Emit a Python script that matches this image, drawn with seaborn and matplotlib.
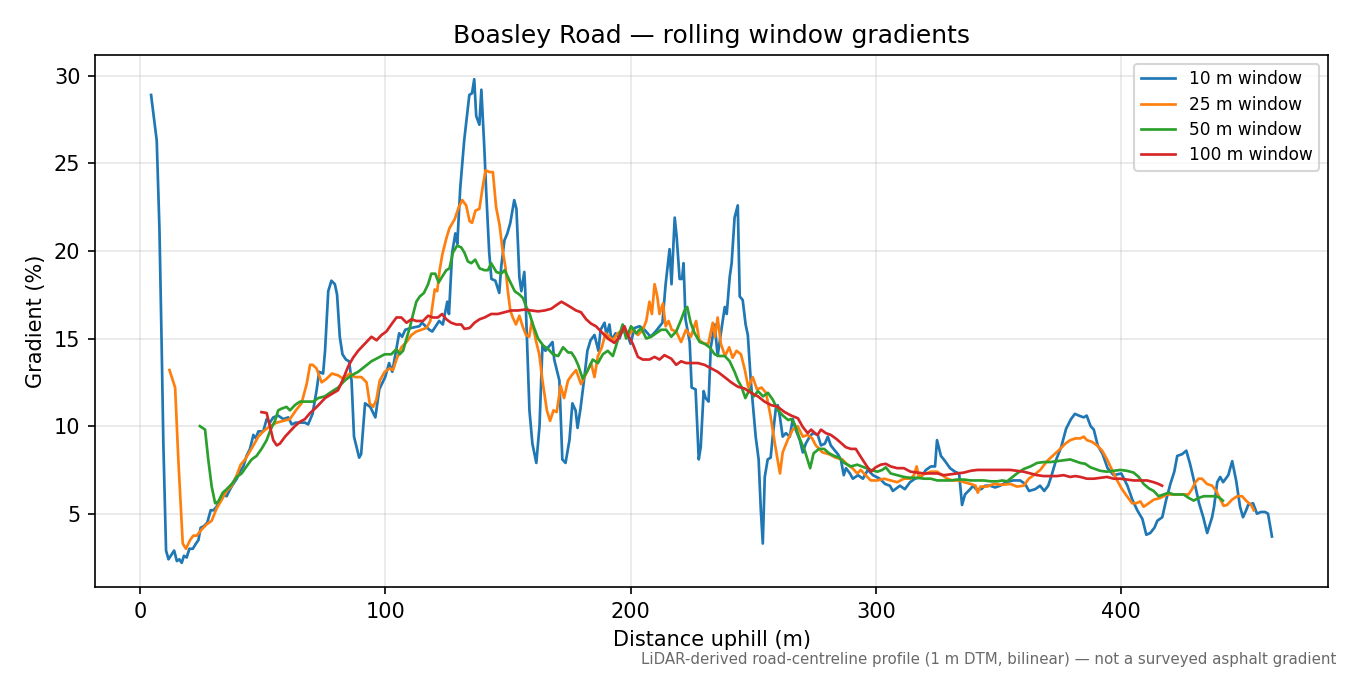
import numpy as np
import pandas as pd
import matplotlib
matplotlib.use("Agg")
import matplotlib.pyplot as plt
import seaborn as sns

# distance (m) / gradient (%)
dist_10 = [4.6, 6.9, 8.0, 8.9, 9.6, 10.7, 11.7, 12.6, 14.0, 15.1, 16.1, 17.1, 18.0, 19.1, 20.2,
           21.6, 22.9, 23.9, 24.8, 26.2, 27.5, 28.9, 30.0, 31.3, 32.7, 34.0, 35.4, 36.8, 38.1,
           39.5, 40.8, 42.2, 43.5, 44.9, 46.3, 47.3, 48.3, 50.3, 51.7, 53.0, 54.4, 56.4, 58.5,
           60.5, 61.9, 63.6, 65.3, 67.3, 68.6, 70.4, 72.0, 73.1, 74.7, 75.5, 76.8, 78.1, 79.5,
           80.4, 81.5, 82.6, 84.0, 85.3, 86.3, 87.3, 89.4, 90.2, 91.8, 93.9, 96.0, 97.6, 100.0,
           101.6, 102.9, 105.7, 106.9, 108.2, 110.5, 113.9, 115.0, 118.0, 119.2, 122.0, 123.5,
           125.3, 126.0, 127.3, 128.6, 129.4, 130.6, 132.2, 134.3, 135.4, 136.3, 137.1, 138.4,
           139.2, 140.4, 141.2, 142.4, 143.3, 144.9, 146.5, 147.3, 148.6, 149.8, 151.0, 152.6,
           153.5, 154.7, 155.5, 156.7, 157.1, 158.8, 160.0, 161.6, 162.9, 164.1, 165.3, 168.2,
           168.9, 171.0, 172.2, 173.5, 175.1, 176.3, 177.6, 178.4, 179.6, 181.2, 182.4, 183.7,
           185.3, 186.9, 187.8, 189.4, 190.2, 191.4, 192.2, 193.9, 195.5, 196.7, 198.8, 200.0,
           201.6, 203.7, 205.7, 208.2, 210.2, 213.0, 214.3, 215.9, 216.7, 218.0, 218.8, 220.0,
           221.0, 221.6, 222.4, 224.1, 224.9, 226.5, 227.8, 228.6, 229.8, 230.6, 231.8, 232.7,
           234.3, 235.5, 236.7, 238.4, 239.2, 240.4, 241.2, 242.4, 243.7, 244.5, 245.7, 246.9,
           247.8, 249.0, 249.8, 251.0, 252.2, 253.1, 253.9, 254.7, 255.9, 257.1, 258.0, 259.2,
           260.0, 260.8, 262.0, 263.3, 264.9, 266.1, 267.3, 269.0, 270.2, 271.4, 273.0, 274.3,
           276.3, 277.6, 279.2, 280.4, 281.6, 283.3, 284.5, 285.7, 286.9, 287.8, 289.4, 290.6,
           292.7, 294.7, 296.7, 298.8, 301.6, 303.7, 305.7, 306.9, 309.8, 311.8, 313.9, 315.9,
           318.4, 320.4, 322.4, 324.1, 324.9, 326.5, 328.2, 330.2, 332.2, 333.9, 335.1, 336.3,
           338.4, 339.6, 340.8, 342.9, 344.5, 346.5, 348.6, 350.6, 353.1, 355.9, 358.8, 360.8,
           362.4, 364.9, 366.9, 368.6, 370.2, 371.4, 373.5, 375.5, 377.5, 379.5, 381.1, 382.7,
           384.7, 385.9, 387.5, 388.8, 390.4, 392.4, 394.4, 396.9, 400.0, 402.5, 404.5, 406.5,
           408.6, 410.2, 411.8, 413.5, 414.7, 416.7, 418.3, 420.0, 421.6, 422.8, 424.8, 426.5,
           428.1, 430.1, 431.7, 433.4, 435.0, 437.0, 437.8, 439.1, 440.3, 441.5, 443.6, 445.2,
           446.8, 448.4, 449.6, 450.9, 451.7, 453.7, 455.3, 456.9, 458.6, 459.8, 461.4]
grad_10 = [28.9, 26.3, 21.3, 14.7, 9.0, 2.9, 2.4, 2.6, 2.9, 2.3, 2.4, 2.2, 2.6, 2.5, 3.0,
           3.0, 3.3, 3.5, 4.2, 4.3, 4.5, 5.2, 5.2, 5.4, 5.8, 6.1, 6.0, 6.4, 6.7,
           7.0, 7.4, 7.7, 8.3, 8.7, 9.5, 9.3, 9.7, 9.7, 10.4, 10.2, 10.5, 10.6, 10.4,
           10.5, 10.1, 10.2, 10.2, 10.2, 10.1, 10.7, 12.0, 13.1, 13.0, 14.3, 17.7, 18.3, 18.1,
           17.5, 15.1, 14.1, 13.8, 13.7, 12.6, 9.4, 8.2, 8.4, 11.3, 11.1, 10.5, 12.1, 12.8,
           13.6, 13.1, 15.3, 15.1, 15.5, 15.6, 15.7, 15.9, 15.5, 15.4, 16.0, 15.8,
           17.1, 16.4, 19.9, 21.0, 20.4, 23.6, 26.3, 28.9, 29.0, 29.8, 27.7, 27.2,
           29.2, 25.9, 23.3, 19.9, 18.4, 18.3, 17.6, 19.1, 20.6, 21.0, 21.6, 22.9,
           22.4, 18.5, 17.7, 18.8, 17.7, 10.9, 9.0, 7.9, 10.0, 14.6, 14.3, 14.8,
           13.8, 12.6, 8.1, 7.9, 9.2, 11.3, 10.9, 9.9, 11.0, 12.8, 14.3, 14.9,
           15.2, 14.3, 15.5, 15.9, 15.2, 15.8, 14.9, 15.3, 15.0, 15.5, 15.2, 14.7,
           15.6, 15.7, 15.5, 15.1, 15.4, 15.9, 18.1, 20.1, 18.1, 21.9, 20.8, 18.4,
           18.4, 19.3, 16.1, 14.8, 12.2, 12.1, 8.1, 8.8, 12.0, 11.6, 11.4, 14.5,
           15.8, 14.0, 15.2, 16.8, 16.4, 18.5, 19.3, 21.9, 22.6, 17.4, 17.2, 15.8,
           15.2, 12.6, 11.3, 9.4, 8.1, 5.2, 3.3, 7.1, 8.1, 8.2, 9.5, 11.0,
           11.2, 10.6, 9.4, 9.6, 9.4, 10.4, 9.8, 9.2, 8.5, 9.0, 9.4, 9.6,
           9.5, 8.9, 9.0, 9.4, 8.9, 8.6, 8.4, 8.1, 7.2, 7.6, 7.3, 7.0,
           7.2, 7.0, 7.5, 7.2, 7.0, 6.7, 6.6, 6.3, 6.6, 6.4, 6.8, 7.0,
           7.1, 7.5, 7.7, 7.7, 9.2, 8.3, 8.0, 7.6, 7.4, 7.3, 5.5, 6.1,
           6.4, 6.6, 6.4, 6.4, 6.6, 6.6, 6.5, 6.6, 6.8, 6.9, 6.9, 6.7,
           6.3, 6.4, 6.6, 6.3, 6.6, 7.1, 8.1, 8.8, 9.85, 10.4, 10.7, 10.6,
           10.5, 10.6, 10.0, 9.8, 8.9, 8.4, 7.6, 7.2, 7.3, 6.6, 5.8, 5.2,
           4.7, 3.8, 3.9, 4.2, 4.6, 4.8, 5.8, 6.7, 7.4, 8.3, 8.4, 8.6,
           7.8, 6.6, 5.6, 4.8, 3.9, 4.8, 5.4, 6.8, 7.1, 6.8, 7.2, 8.0,
           6.9, 5.4, 4.8, 5.2, 5.5, 5.6, 5.0, 5.1, 5.1, 5.0, 3.7]

dist_25 = [12.1, 14.4, 15.7, 17.5, 18.8, 20.5, 21.8, 23.2, 25.2, 27.3, 29.3, 31.3, 33.4, 35.4,
           37.5, 39.5, 41.1, 42.9, 44.2, 46.3, 48.3, 50.3, 53.0, 55.8, 58.5, 61.2, 63.6, 65.9,
           68.0, 69.4, 70.4, 72.0, 74.1, 76.1, 78.3, 80.8, 82.9, 85.6, 87.6, 90.3, 92.4, 93.7,
           95.1, 96.4, 97.8, 99.8, 101.9, 103.2, 104.6, 106.6, 108.7, 110.7, 112.7, 114.8,
           116.8, 118.4, 119.2, 120.2, 121.2, 122.2, 123.3, 124.9, 126.2, 128.3, 130.0, 131.4,
           133.0, 134.4, 135.4, 136.8, 138.4, 139.8, 140.9, 142.5, 143.9, 145.2, 146.6, 147.9,
           149.0, 150.0, 151.0, 152.0, 153.3, 154.7, 156.0, 157.4, 158.7, 159.8, 161.4, 162.8,
           164.1, 165.9, 167.2, 168.6, 169.9, 171.5, 172.9, 174.5, 176.0, 177.8, 179.8, 181.9,
           183.9, 185.3, 186.7, 188.3, 189.8, 191.4, 192.8, 194.8, 196.8, 198.9, 200.9, 203.0,
           205.0, 206.4, 207.7, 208.7, 209.8, 210.9, 211.8, 213.2, 214.3, 215.5, 216.8, 218.6,
           220.6, 222.6, 224.6, 226.7, 228.0, 230.1, 231.7, 233.5, 234.4, 235.5, 236.8, 238.5,
           240.2, 241.6, 243.2, 245.0, 246.6, 248.0, 249.8, 251.5, 253.4, 255.2, 256.9, 258.6,
           259.9, 260.9, 262.0, 264.0, 266.1, 268.1, 270.2, 272.2, 274.0, 275.5, 278.2, 280.9,
           283.6, 286.3, 288.4, 290.4, 292.4, 293.8, 295.8, 297.9, 300.6, 303.3, 306.0, 308.7,
           311.4, 314.1, 315.5, 316.6, 317.5, 319.6, 322.3, 325.0, 327.0, 329.1, 331.1, 333.8,
           335.9, 338.6, 340.6, 341.5, 342.6, 345.3, 348.0, 351.4, 354.8, 357.5, 360.2, 362.3,
           364.3, 367.0, 369.7, 372.4, 375.1, 377.2, 379.2, 381.3, 383.3, 384.7, 386.0, 388.1,
           390.1, 392.2, 394.2, 396.2, 398.3, 400.3, 402.3, 404.4, 406.1, 407.8, 409.1, 411.2,
           413.2, 415.9, 418.6, 421.3, 424.0, 427.4, 428.8, 430.2, 431.5, 432.9, 434.9, 437.0,
           438.7, 440.4, 441.7, 443.1, 445.1, 447.2, 449.2, 451.2, 452.9, 454.0]
grad_25 = [13.2, 12.2, 8.1, 3.3, 3.0, 3.5, 3.75, 3.75, 4.1, 4.4, 4.6, 5.3, 5.8, 6.3,
           6.6, 7.2, 7.8, 8.1, 8.4, 8.9, 9.4, 9.7, 10.0, 10.2, 10.3, 10.4, 10.9, 11.3,
           12.4, 13.5, 13.5, 13.3, 12.5, 12.7, 13.0, 12.9, 12.7, 13.0, 12.8, 12.8, 12.5, 11.3,
           11.1, 11.5, 12.6, 13.1, 13.3, 13.2, 13.8, 14.5, 14.8, 15.2, 15.4, 15.5,
           15.6, 16.0, 16.8, 17.8, 17.7, 18.9, 19.8, 20.7, 21.3, 21.8, 22.5, 22.9,
           22.6, 21.7, 21.6, 22.3, 22.4, 23.7, 24.6, 24.5, 24.5, 22.5, 21.5, 20.0,
           19.1, 17.7, 16.6, 16.2, 15.8, 16.3, 15.7, 15.2, 15.1, 16.0, 14.9, 14.1,
           12.6, 10.9, 10.3, 10.9, 10.8, 12.3, 11.6, 12.6, 12.9, 13.2, 12.4, 13.0,
           13.6, 12.8, 14.0, 14.5, 15.3, 15.1, 14.9, 15.3, 15.5, 15.1, 15.5, 15.2,
           15.5, 16.0, 17.1, 16.4, 18.1, 17.4, 16.4, 17.0, 15.7, 16.0, 15.5, 15.4,
           14.8, 15.5, 15.1, 16.0, 14.9, 14.7, 14.7, 15.9, 15.1, 16.2, 14.7, 14.0,
           14.5, 13.9, 14.3, 14.1, 13.2, 12.2, 12.8, 12.1, 12.2, 11.9, 10.7, 9.2,
           8.1, 7.3, 8.5, 9.2, 9.8, 10.0, 9.4, 9.5, 9.3, 8.9, 8.5, 8.4,
           8.2, 8.1, 7.8, 7.6, 7.3, 7.5, 7.2, 6.9, 6.9, 7.0, 6.9, 6.8,
           7.0, 7.0, 7.2, 7.7, 7.1, 7.25, 7.4, 7.4, 7.2, 7.0, 6.9, 6.9,
           6.8, 6.7, 6.6, 6.2, 6.55, 6.55, 6.7, 6.65, 6.7, 6.55, 6.6, 7.0,
           7.2, 7.5, 8.0, 8.35, 8.7, 9.0, 9.2, 9.3, 9.3, 9.4, 9.2, 9.1,
           8.9, 8.6, 8.1, 7.5, 6.9, 6.4, 6.0, 5.6, 5.6, 5.7, 5.4, 5.6,
           5.8, 5.9, 6.1, 6.1, 6.1, 6.1, 6.4, 6.8, 7.0, 7.0, 6.7, 6.6,
           6.3, 5.8, 5.45, 5.5, 5.8, 6.0, 6.0, 5.7, 5.5, 5.2]

dist_50 = [24.5, 26.6, 27.9, 29.3, 30.7, 32.0, 33.8, 35.4, 37.5, 39.5, 41.5, 43.5, 45.6, 47.6,
           49.6, 51.7, 53.3, 55.1, 56.4, 57.8, 59.8, 61.2, 63.2, 65.3, 68.0, 70.7, 72.7, 75.4,
           78.0, 80.8, 83.5, 86.3, 89.0, 91.7, 94.4, 97.1, 99.8, 102.5, 104.6, 105.9, 107.3,
           108.7, 110.0, 111.4, 112.7, 114.1, 115.8, 117.5, 118.8, 120.4, 121.8, 123.1, 124.9,
           126.2, 127.6, 129.3, 131.0, 132.3, 133.7, 135.1, 136.7, 138.5, 140.5, 141.9, 143.2,
           145.3, 147.3, 148.7, 150.7, 152.8, 154.8, 156.2, 157.5, 158.9, 160.2, 162.3, 164.4,
           166.4, 168.4, 170.5, 172.5, 174.6, 175.9, 177.3, 178.6, 180.5, 182.6, 184.6, 186.7,
           188.7, 190.7, 192.8, 194.8, 196.8, 198.2, 200.2, 202.3, 204.3, 206.4, 208.4, 210.4,
           212.5, 214.5, 216.6, 218.6, 220.4, 222.0, 223.1, 224.5, 226.1, 228.2, 230.2, 232.2,
           234.3, 236.3, 238.4, 240.4, 242.4, 243.8, 245.2, 246.8, 248.5, 250.3, 251.9, 254.0,
           256.0, 258.0, 260.1, 262.1, 264.2, 265.5, 266.9, 268.9, 271.0, 273.2, 274.6, 276.8,
           278.9, 280.9, 283.0, 285.0, 287.1, 289.8, 292.4, 295.2, 297.9, 300.6, 302.6, 304.0,
           306.0, 308.7, 311.4, 314.1, 316.8, 319.6, 322.3, 325.0, 327.7, 330.4, 333.1, 335.9,
           338.6, 341.3, 344.0, 346.7, 349.5, 351.5, 353.5, 354.8, 357.5, 360.2, 363.0, 365.7,
           368.4, 371.1, 373.8, 376.5, 379.2, 381.3, 383.3, 385.3, 387.4, 389.4, 391.4, 394.2,
           396.9, 399.6, 402.3, 405.0, 407.1, 409.1, 411.2, 413.2, 415.2, 417.3, 419.3, 421.3,
           423.4, 425.4, 427.5, 429.5, 431.5, 433.6, 435.6, 437.7, 439.7, 441.4]
grad_50 = [10.0, 9.8, 8.1, 6.55, 5.6, 5.7, 6.2, 6.4, 6.7, 7.1, 7.3, 7.7, 8.1, 8.3,
           8.7, 9.2, 9.8, 10.3, 10.9, 11.0, 11.1, 10.9, 11.2, 11.4, 11.4, 11.4, 11.6, 11.7,
           11.95, 12.2, 12.6, 12.9, 13.1, 13.4, 13.7, 13.9, 14.1, 14.1, 14.4, 14.1, 14.3,
           15.0, 15.6, 16.4, 17.1, 17.4, 17.6, 18.1, 18.7, 18.7, 18.2, 18.5, 18.9,
           19.0, 19.9, 20.3, 20.2, 19.9, 19.4, 19.3, 19.5, 19.0, 18.9, 18.9, 19.3,
           18.8, 18.7, 18.9, 18.3, 17.7, 17.5, 17.3, 16.8, 16.4, 15.8, 15.0, 14.6,
           14.4, 14.1, 14.0, 14.5, 14.2, 14.2, 13.9, 13.5, 12.7, 13.2, 13.8, 13.6,
           14.1, 14.3, 14.0, 14.9, 15.8, 15.0, 15.7, 15.3, 15.6, 15.0, 15.1, 15.3,
           15.5, 15.5, 15.1, 15.4, 16.0, 16.6, 16.8, 15.9, 15.3, 14.8, 14.7, 14.5,
           14.1, 14.0, 14.0, 13.7, 13.1, 12.6, 12.25, 11.6, 12.1, 11.7, 12.0, 11.7,
           11.9, 11.5, 10.9, 10.6, 10.35, 10.4, 10.1, 9.3, 8.6, 7.6, 8.45, 8.7,
           8.7, 8.45, 8.3, 8.2, 7.9, 7.7, 7.8, 7.65, 7.5, 7.4, 7.5, 7.65,
           7.3, 7.2, 7.1, 7.05, 7.05, 7.0, 7.0, 6.9, 6.9, 6.9, 6.95, 6.95,
           6.9, 6.9, 6.9, 6.85, 6.85, 6.9, 6.85, 7.0, 7.3, 7.55, 7.7, 7.9,
           7.95, 7.95, 8.0, 8.05, 8.1, 8.0, 7.9, 7.85, 7.65, 7.55, 7.45, 7.4,
           7.45, 7.5, 7.45, 7.35, 7.1, 6.7, 6.45, 6.3, 6.0, 6.1, 6.2, 6.1,
           6.1, 6.1, 5.9, 5.75, 5.9, 6.0, 6.0, 6.0, 5.95, 5.75]

dist_100 = [49.6, 51.7, 53.0, 54.4, 55.8, 57.1, 59.2, 61.2, 63.2, 65.3, 67.3, 69.4, 71.4, 73.5,
            75.5, 77.8, 80.8, 82.9, 84.9, 86.9, 89.0, 91.7, 94.4, 96.5, 98.5, 100.5, 102.5,
            104.6, 106.6, 108.7, 110.7, 112.7, 115.4, 117.5, 119.5, 121.5, 123.2, 124.9, 126.9,
            129.0, 131.0, 132.3, 134.4, 136.4, 138.5, 140.5, 143.2, 145.9, 148.7, 151.4, 154.1,
            156.8, 159.5, 162.3, 165.0, 167.7, 169.7, 171.8, 173.1, 175.5, 177.8, 179.8, 181.9,
            183.9, 185.9, 188.0, 190.7, 193.4, 195.5, 197.5, 198.9, 200.9, 203.0, 205.0, 207.7,
            209.8, 211.8, 213.8, 216.6, 218.6, 220.6, 222.6, 224.6, 227.4, 230.1, 232.8, 235.5,
            238.3, 241.0, 243.7, 246.4, 249.1, 251.9, 254.6, 257.3, 260.0, 262.8, 265.5, 268.2,
            270.2, 272.2, 273.6, 275.2, 276.2, 277.6, 279.6, 281.6, 283.6, 285.7, 287.7, 289.8,
            291.8, 293.8, 295.9, 297.9, 299.9, 302.0, 304.0, 306.0, 308.7, 311.4, 314.1, 316.8,
            319.6, 322.3, 325.0, 327.7, 330.4, 333.1, 335.9, 338.6, 341.3, 344.0, 346.7, 349.5,
            352.2, 354.8, 357.5, 360.2, 363.0, 365.7, 368.4, 371.1, 373.8, 376.5, 379.2, 381.3,
            383.3, 386.0, 388.8, 391.4, 394.2, 396.9, 399.6, 402.3, 405.0, 407.8, 410.5, 413.2,
            415.2, 416.6]
grad_100 = [10.8, 10.75, 10.0, 9.2, 8.9, 9.0, 9.4, 9.7, 10.0, 10.25, 10.4, 10.75, 11.0, 11.3,
            11.6, 11.8, 12.05, 12.7, 13.4, 13.9, 14.3, 14.7, 15.1, 14.9, 15.2, 15.4, 15.8,
            16.2, 16.2, 15.9, 16.1, 16.0, 16.0, 16.3, 16.2, 16.2, 16.4, 16.1, 15.9,
            15.8, 15.8, 15.55, 15.6, 15.9, 16.1, 16.2, 16.4, 16.4, 16.5, 16.6, 16.6,
            16.65, 16.6, 16.55, 16.6, 16.7, 16.9, 17.1, 17.0, 16.8, 16.6, 16.5, 16.1,
            15.85, 15.7, 15.4, 15.0, 14.75, 15.1, 15.7, 15.2, 14.7, 13.95, 13.8, 13.8,
            13.95, 13.8, 14.05, 13.85, 13.5, 13.7, 13.6, 13.6, 13.6, 13.5, 13.3, 13.1,
            12.8, 12.5, 12.25, 12.15, 11.9, 11.7, 11.4, 11.2, 11.1, 10.8, 10.6, 10.45,
            9.95, 9.6, 9.8, 9.6, 9.5, 9.8, 9.6, 9.5, 9.3, 9.05, 8.8, 8.7,
            8.7, 8.25, 7.8, 7.4, 7.65, 7.8, 7.85, 7.7, 7.6, 7.6, 7.4, 7.35,
            7.3, 7.3, 7.3, 7.2, 7.25, 7.3, 7.35, 7.45, 7.5, 7.5, 7.5, 7.5,
            7.5, 7.5, 7.45, 7.4, 7.3, 7.2, 7.15, 7.15, 7.15, 7.2, 7.1, 7.15,
            7.1, 7.0, 7.0, 7.05, 7.1, 7.0, 7.0, 6.95, 6.9, 6.9, 6.9, 6.8,
            6.7, 6.6]

series = [
    ("10 m window", dist_10, grad_10, "#1f77b4"),
    ("25 m window", dist_25, grad_25, "#ff7f0e"),
    ("50 m window", dist_50, grad_50, "#2ca02c"),
    ("100 m window", dist_100, grad_100, "#d62728"),
]

fig, ax = plt.subplots(figsize=(9, 4.5), dpi=150)

for label, d, g, c in series:
    df = pd.DataFrame({"distance": d, "gradient": g})
    sns.lineplot(data=df, x="distance", y="gradient", ax=ax, color=c,
                 linewidth=1.3, label=label, sort=False, estimator=None)

ax.set_title("Boasley Road \u2014 rolling window gradients", fontsize=12)
ax.set_xlabel("Distance uphill (m)")
ax.set_ylabel("Gradient (%)")
ax.set_xticks([0, 100, 200, 300, 400])
ax.set_yticks([5, 10, 15, 20, 25, 30])
ax.grid(True, alpha=0.3)
ax.legend(loc="upper right", fontsize=8.2, labelspacing=0.42)

fig.subplots_adjust(left=0.0704, right=0.9837, top=0.9185, bottom=0.1304)
fig.text(0.99, 0.012, "LiDAR-derived road-centreline profile (1 m DTM, bilinear) \u2014 not a surveyed asphalt gradient",
         ha="right", va="bottom", fontsize=7.2, color="dimgray")

fig.savefig("out.png", dpi=150)
